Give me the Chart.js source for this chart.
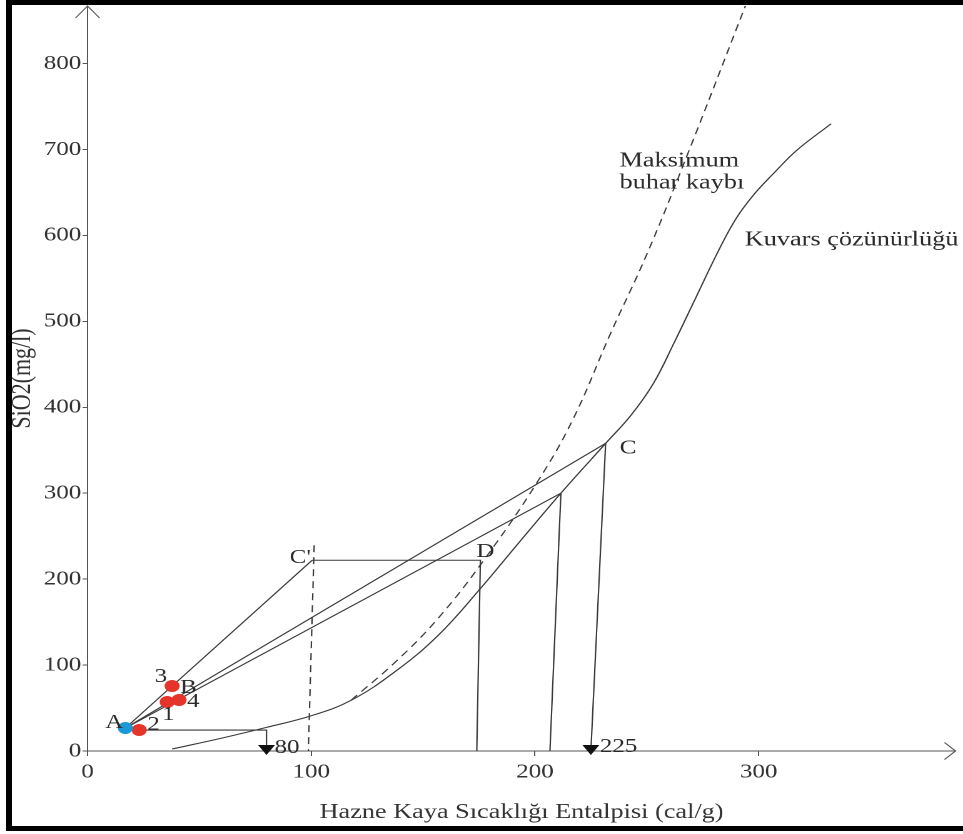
<!DOCTYPE html>
<html lang="tr">
<head>
<meta charset="utf-8">
<title>SiO2 – Hazne Kaya Sıcaklığı Entalpisi</title>
<script src="https://cdn.jsdelivr.net/npm/chart.js@4.4.1/dist/chart.umd.min.js"></script>
<style>
  html, body { margin: 0; padding: 0; background: #fff; }
  #wrap { position: relative; width: 963px; height: 834px; overflow: hidden; background: #fff; }
  #chart { position: absolute; left: 0; top: 0; }
  #frame { position: absolute; left: 6px; top: 0; width: 957px; height: 831px; box-sizing: border-box;
           border-top: 5px solid #000; border-left: 6px solid #000; border-bottom: 5px solid #000;
           pointer-events: none; }
</style>
</head>
<body>
<div id="wrap">
  <!-- the drawing is laid out on a 770px-wide canvas and shown 963px wide -->
  <canvas id="chart" width="770" height="834" style="width:963px;height:834px"></canvas>
  <div id="frame"></div>
</div>
<script>
// Kuvars çözünürlüğü eğrisi: entalpi (cal/g) ve SiO2 (mg/l)
const quartzEnthalpy = [37.8, 60, 80, 100, 117.8, 137.8, 156.9, 175.6, 193, 211.6, 231.6, 243, 253, 262, 272, 282, 290, 298, 307, 317, 332.4];
const quartzSilica   = [2.3, 15, 27.5, 41, 59, 93, 135, 189, 243, 300, 358, 391, 428, 474, 528, 582, 620, 648, 673, 699, 730];

// Maksimum buhar kaybı eğrisi
const steamEnthalpy = [117.8, 137.8, 156.9, 177.8, 201.3, 217.0, 233.8, 250.0, 268.0, 294.5];
const steamSilica   = [59.0, 104.0, 155.0, 224.4, 314.0, 386.0, 486.0, 578.0, 693.0, 870.0];

// Su noktaları: A (soğuk su) ve 1–4 numaralı kaynaklar
const sampleNames    = ['A', '2', '3', '1', '4'];
const sampleEnthalpy = [16.9, 23.1, 37.8, 35.6, 40.9];
const sampleSilica   = [26.7, 24.4, 75.6, 57.0, 59.3];

// Karışım modeli yapı noktaları [entalpi, SiO2]
const pointCprime = [100.4, 222.0];
const pointD      = [175.6, 222.0];
const pointC      = [231.6, 358.1];
const pointE      = [211.6, 300.0];
const cPrimeTop   = [101.3, 239.5];
const footCprime  = 98.7;
const footD       = 174.0;
const footE       = 206.7;

// Okla gösterilen sıcak bileşen entalpileri
const arrowValues = [80, 225];

// Eksen değerleri
const xTicks = [0, 100, 200, 300];
const yTicks = [0, 100, 200, 300, 400, 500, 600, 700, 800];
const xMax = 388;
const yMax = 867;

const SERIF = "'Liberation Serif', 'Times New Roman', serif";
const INK = '#2b2b2b';
const LINE = '#3a3a3a';
const AXIS = '#555555';
const RED = '#e5342a';
const BLUE = '#1c98d6';

Chart.defaults.font.family = SERIF;

const xy = (xs, ys) => xs.map((v, i) => ({ x: v, y: ys[i] }));
const seg = (...pts) => pts.map(p => ({ x: p[0], y: p[1] }));
const sample = i => [sampleEnthalpy[i], sampleSilica[i]];

const pointA = sample(0);
const point2 = sample(1);

const lineStyle = { showLine: true, borderColor: LINE, borderWidth: 1.1, pointRadius: 0, pointHoverRadius: 0, fill: false, tension: 0 };

const datasets = [
  { label: 'A', data: [{ x: pointA[0], y: pointA[1] }], pointStyle: 'circle', pointRadius: 6,
    backgroundColor: BLUE, borderWidth: 0 },
  { label: 'Kaynaklar', data: [1, 2, 3, 4].map(i => ({ x: sampleEnthalpy[i], y: sampleSilica[i] })),
    pointStyle: 'circle', pointRadius: 6, backgroundColor: RED, borderWidth: 0 },
  { label: 'Kuvars çözünürlüğü', data: xy(quartzEnthalpy, quartzSilica), ...lineStyle, tension: 0.4 },
  { label: 'Maksimum buhar kaybı', data: xy(steamEnthalpy, steamSilica), ...lineStyle, tension: 0.4,
    borderDash: [7, 5] },
  { label: "A–C'", data: seg(pointA, pointCprime), ...lineStyle },
  { label: 'A–C', data: seg(pointA, pointC), ...lineStyle },
  { label: 'A–E', data: seg(pointA, pointE), ...lineStyle },
  { label: "C'–D", data: seg(pointCprime, pointD, [footD, 0]), ...lineStyle },
  { label: 'E', data: seg(pointE, [footE, 0]), ...lineStyle },
  { label: 'C', data: seg(pointC, [arrowValues[1], 0]), ...lineStyle },
  { label: '2–80', data: seg(point2, [arrowValues[0], point2[1]], [arrowValues[0], 0]), ...lineStyle },
  { label: "C' düşey", data: seg(cPrimeTop, [footCprime, 0]), ...lineStyle, borderDash: [7, 5] }
];

// Metin etiketleri: bağlandıkları nokta ve küçük kaydırmalar
const labels = [
  { text: 'A', at: pointA, align: 'right', dx: -1.6, dy: 0, size: 20 },
  { text: '2', at: point2, align: 'left', dx: 6.4, dy: 0, size: 20 },
  { text: '3', at: sample(2), align: 'right', dx: -4, dy: -4, size: 20 },
  { text: 'B', at: sample(4), align: 'left', dx: 0.8, dy: -7, size: 20 },
  { text: '1', at: sample(3), align: 'center', dx: 1, dy: 18, size: 20 },
  { text: '4', at: sample(4), align: 'left', dx: 6.4, dy: 7, size: 20 },
  { text: "C'", at: pointCprime, align: 'right', dx: -1, dy: 3, size: 20 },
  { text: 'D', at: pointD, align: 'left', dx: -3.2, dy: -3, size: 20 },
  { text: 'C', at: pointC, align: 'left', dx: 11.2, dy: 10, size: 20 },
  { text: String(arrowValues[0]), at: [arrowValues[0], 0], align: 'left', dx: 6.4, dy: 2, size: 20 },
  { text: String(arrowValues[1]), at: [arrowValues[1], 0], align: 'left', dx: 7.2, dy: 1, size: 20 },
  { text: 'Maksimum', at: [237.8, 680.2], align: 'left', dx: 0, dy: 0, size: 21 },
  { text: 'buhar kaybı', at: [237.8, 654.7], align: 'left', dx: 0, dy: 0, size: 21 },
  { text: 'Kuvars çözünürlüğü', at: [293.8, 588.4], align: 'left', dx: 0, dy: 0, size: 21 }
];

const paper = {
  id: 'paper',
  beforeDraw(chart) {
    const { ctx, width, height } = chart;
    ctx.save();
    ctx.fillStyle = '#ffffff';
    ctx.fillRect(0, 0, width, height);
    ctx.restore();
  }
};

const annotate = {
  id: 'annotate',
  afterDatasetsDraw(chart) {
    const { ctx, chartArea, scales: { x, y } } = chart;
    ctx.save();

    // open arrow ends of both axes
    ctx.strokeStyle = AXIS;
    ctx.lineWidth = 1;
    ctx.beginPath();
    ctx.moveTo(chartArea.left - 9.6, chartArea.top + 12);
    ctx.lineTo(chartArea.left, chartArea.top);
    ctx.lineTo(chartArea.left + 9.6, chartArea.top + 12);
    ctx.moveTo(chartArea.right - 8.8, chartArea.bottom - 8.5);
    ctx.lineTo(chartArea.right, chartArea.bottom);
    ctx.lineTo(chartArea.right - 8.8, chartArea.bottom + 8.5);
    ctx.stroke();

    // filled arrowheads where the hot-water enthalpies meet the axis
    ctx.fillStyle = '#111';
    const base = y.getPixelForValue(0);
    arrowValues.forEach(v => {
      const px = x.getPixelForValue(v);
      ctx.beginPath();
      ctx.moveTo(px - 6.8, base - 6);
      ctx.lineTo(px + 6.8, base - 6);
      ctx.lineTo(px, base + 4);
      ctx.closePath();
      ctx.fill();
    });

    // text labels
    ctx.fillStyle = INK;
    ctx.textBaseline = 'alphabetic';
    labels.forEach(l => {
      ctx.font = `${l.size}px ${SERIF}`;
      ctx.textAlign = l.align;
      ctx.fillText(l.text, x.getPixelForValue(l.at[0]) + l.dx, y.getPixelForValue(l.at[1]) + l.dy);
    });
    ctx.restore();
  }
};

new Chart(document.getElementById('chart'), {
  type: 'scatter',
  data: { datasets },
  options: {
    responsive: false,
    devicePixelRatio: 2,
    animation: false,
    events: [],
    layout: { padding: { left: 0, top: 5, right: 2, bottom: 0 } },
    plugins: { legend: { display: false }, tooltip: { enabled: false } },
    scales: {
      x: {
        type: 'linear',
        position: 'bottom',
        min: 0,
        max: xMax,
        afterBuildTicks: s => { s.ticks = xTicks.map(v => ({ value: v })); },
        afterFit: s => { s.height = 83; s.paddingLeft = 0; s.paddingRight = 0; },
        grid: { display: true, drawOnChartArea: false, drawTicks: true, tickLength: 5, color: AXIS, lineWidth: 1 },
        border: { display: true, color: AXIS, width: 1 },
        ticks: { color: '#333', padding: 4, maxRotation: 0, font: { family: SERIF, size: 20 } },
        title: { display: true, text: 'Hazne Kaya Sıcaklığı Entalpisi (cal/g)', color: '#333',
                 font: { family: SERIF, size: 21 }, padding: { top: 0, bottom: 9 } }
      },
      y: {
        type: 'linear',
        position: 'left',
        min: 0,
        max: yMax,
        afterBuildTicks: s => { s.ticks = yTicks.map(v => ({ value: v })); },
        afterFit: s => { s.width = 70; s.paddingTop = 0; s.paddingBottom = 0; },
        grid: { display: true, drawOnChartArea: false, drawTicks: true, tickLength: 4, color: AXIS, lineWidth: 1 },
        border: { display: true, color: AXIS, width: 1 },
        ticks: { color: '#333', padding: 1, font: { family: SERIF, size: 20 } },
        title: { display: true, text: 'SiO2(mg/l)', color: '#333',
                 font: { family: SERIF, size: 22 }, padding: { top: 5, bottom: 0 } }
      }
    }
  },
  plugins: [paper, annotate]
});
</script>
</body>
</html>
